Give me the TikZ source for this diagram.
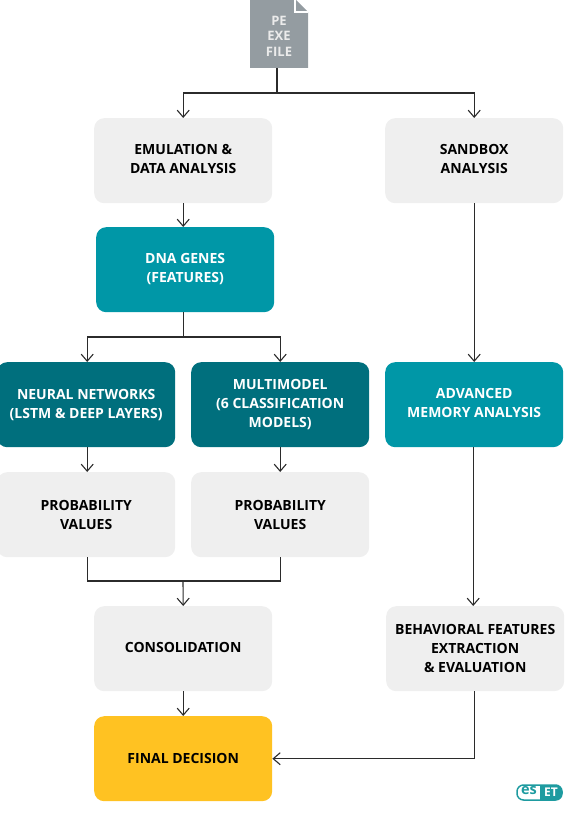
\documentclass[tikz,border=0pt]{standalone}
\usepackage{fontspec}
\setmainfont{Open Sans}
\usetikzlibrary{arrows.meta,calc}
\definecolor{lightbox}{HTML}{EFEFEF}
\definecolor{tealA}{HTML}{0097A7}
\definecolor{tealB}{HTML}{006F7D}
\definecolor{gold}{HTML}{FFC222}
\definecolor{pegray}{HTML}{949CA1}
\definecolor{esetc}{HTML}{1E9BA0}
\definecolor{linec}{HTML}{2B2B2B}
\tikzset{
  x=1pt,y=-1pt,
  box/.style={rounded corners=10pt,minimum width=178pt,minimum height=85pt,align=center,inner sep=0pt,
    font=\fontsize{14}{19}\selectfont\bfseries,text=black,anchor=north west},
  graybox/.style={box,fill=lightbox},
  tealbox/.style={box,fill=tealA,text=white},
  darkbox/.style={box,fill=tealB,text=white},
  goldbox/.style={box,fill=gold},
  raised/.style={execute at end node={\rule[-3pt]{0pt}{3pt}}},
  conn/.style={draw=linec,line width=1.1pt},
  arr/.style={conn,-{Straight Barb[length=7pt,width=12pt,line width=1.1pt]}}
}
\begin{document}
\begin{tikzpicture}
\useasboundingbox (0,0) rectangle (575,826);
% PE file
\fill[pegray] (250,-1) -- (295,-1) -- (308,12) -- (308,68) -- (250,68) -- cycle;
\draw[white,line width=1.4pt] (295,-1) -- (295,12) -- (308,12);
\node[font=\fontsize{13}{15.5}\selectfont\bfseries,text=white!92!black,align=center,inner sep=0pt] (pe) at (279,36) {PE\\EXE\\FILE};
\coordinate (pebottom) at (277,68);
\coordinate (split) at (277,93);
% boxes
\node[graybox,raised] (emu) at (94,118) {EMULATION \&\\DATA ANALYSIS};
\node[graybox,raised] (sand) at (385,118) {SANDBOX\\ANALYSIS};
\node[tealbox,raised] (dna) at (96,227) {DNA GENES\\(FEATURES)};
\node[darkbox] (nn) at (-3,362) {NEURAL NETWORKS\\(LSTM \& DEEP LAYERS)};
\node[darkbox] (multi) at (191,362) {MULTIMODEL\\(6 CLASSIFICATION\\MODELS)};
\node[tealbox,raised] (mem) at (385,362) {ADVANCED\\MEMORY ANALYSIS};
\node[graybox] (p1) at (-3,472) {PROBABILITY\\VALUES};
\node[graybox] (p2) at (191,472) {PROBABILITY\\VALUES};
\node[graybox,raised] (cons) at (94,606) {CONSOLIDATION};
\node[graybox] (beh) at (386,606) {BEHAVIORAL FEATURES\\EXTRACTION\\\& EVALUATION};
\node[goldbox] (final) at (94,716) {FINAL DECISION};
% connectors
\draw[conn] (pebottom) -- (split);
\draw[arr] (split) -| (emu.north);
\draw[arr] (split) -| (sand.north);
\draw[arr] (emu) -- (emu.south |- dna.north);
\coordinate (split2) at ([xshift=-2pt]dna.south |- 0,337);
\draw[conn] ([xshift=-2pt]dna.south) -- (split2);
\draw[arr] (split2) -| ([xshift=1pt]nn.north);
\draw[arr] (split2) -| (multi.north);
\draw[arr] (sand) -- (sand.south |- mem.north);
\draw[arr] ([xshift=1pt]nn.south) -- ([xshift=1pt]p1.north);
\draw[arr] (multi.south) -- (multi.south |- p2.north);
\coordinate (join) at (183,581);
\draw[conn] ([xshift=1pt]p1.south) |- (join);
\draw[conn] (p2.south) |- (join);
\draw[arr] (join) -- (cons.north);
\draw[arr] (cons) -- (final);
\draw[arr] ([xshift=-1pt]mem.south) -- ([xshift=-1pt]mem.south |- beh.north);
\draw[arr] ([xshift=-1pt]beh.south) |- (final.east);
% logo
\fill[esetc] (540,785) [rounded corners=6pt] -- (562,785) -- (562,800) [sharp corners] -- (540,800) -- cycle;
\draw[esetc,line width=1.5pt,rounded corners=6.5pt] (517,785) rectangle (562,800);
\node[text=esetc,font=\fontsize{14.5}{15}\selectfont\bfseries,inner sep=0pt] (logoa) at (529,791) {es};
\node[text=white,font=\fontsize{12}{12}\selectfont\bfseries,inner sep=0pt] (logob) at (551,792.5) {ET};
\end{tikzpicture}
\end{document}
